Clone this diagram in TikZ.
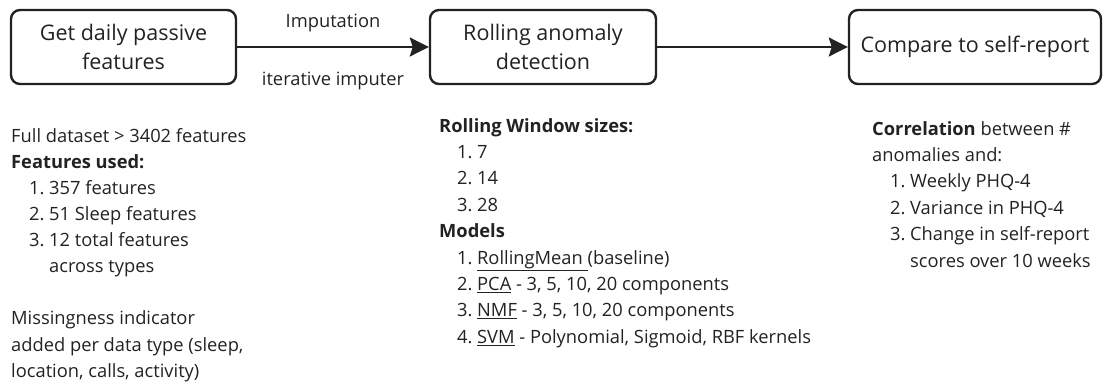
\documentclass[tikz,border=0pt]{standalone}
\usepackage{fontspec}
\setmainfont{Open Sans}
\usetikzlibrary{arrows.meta}
\definecolor{ink}{RGB}{34,34,34}
% numbered list line: indent, number, text
\newcommand{\li}[2]{\hspace*{18pt}\makebox[20pt][l]{#1.}#2}
\newcommand{\cont}[1]{\hspace*{38pt}#1}

\begin{document}
\begin{tikzpicture}[x=1pt,y=-1pt,
  stepbox/.style={draw=ink, line width=2.4pt, rounded corners=9pt,
    minimum height=74pt, align=center, text=ink, inner sep=0pt,
    font=\fontsize{21.5}{29}\selectfont},
  flow/.style={draw=ink, line width=2.4pt,
    -{Stealth[length=19pt,width=19pt,inset=3pt]}},
  note/.style={anchor=north west, align=left, inner sep=0pt, text=ink,
    font=\fontsize{18.3}{26.1}\selectfont},
  wide note/.style={note, font=\fontsize{18.3}{26.4}\selectfont},
  lbl/.style={font=\fontsize{18.3}{22}\selectfont, text=ink, inner sep=0pt}]
\useasboundingbox (0,0) rectangle (1104,386);

% process steps
\node[stepbox, minimum width=225pt] (get)  at (123.5,47) {Get daily passive\\features};
\node[stepbox, minimum width=226pt] (roll) at (543,47)   {Rolling anomaly\\detection};
\node[stepbox, minimum width=252pt] (cmp)  at (975,47)   {Compare to self-report};

% connectors
\draw[flow] (get) -- (roll)
  node[lbl, midway, yshift=24pt] (imp) {Imputation}
  node[lbl, midway, yshift=-34pt] (iter) {iterative imputer};
\draw[flow] (roll) -- (cmp);

% notes under each step
\node[note] (left) at (11,128) {%
  Full dataset > 3402 features\\
  \textbf{Features used:}\\
  \li{1}{357 features}\\
  \li{2}{51 Sleep features}\\
  \li{3}{12 total features}\\
  \cont{across types}\\[26.1pt]
  Missingness indicator\\
  added per data type (sleep,\\
  location, calls, activity)};

\node[wide note] (mid) at (439,118) {%
  \textbf{Rolling Window sizes:}\\
  \li{1}{7}\\
  \li{2}{14}\\
  \li{3}{28}\\
  \textbf{Models}\\
  \li{1}{\underline{RollingMean\ }(baseline)}\\
  \li{2}{\underline{PCA} - 3, 5, 10, 20 components}\\
  \li{3}{\underline{NMF} - 3, 5, 10, 20 components}\\
  \li{4}{\underline{SVM} - Polynomial, Sigmoid, RBF kernels}};

\node[wide note] (right) at (872,121) {%
  \textbf{Correlation} between \#\\
  anomalies and:\\
  \li{1}{Weekly PHQ-4}\\
  \li{2}{Variance in PHQ-4}\\
  \li{3}{Change in self-report}\\
  \cont{scores over 10 weeks}};
\end{tikzpicture}
\end{document}
